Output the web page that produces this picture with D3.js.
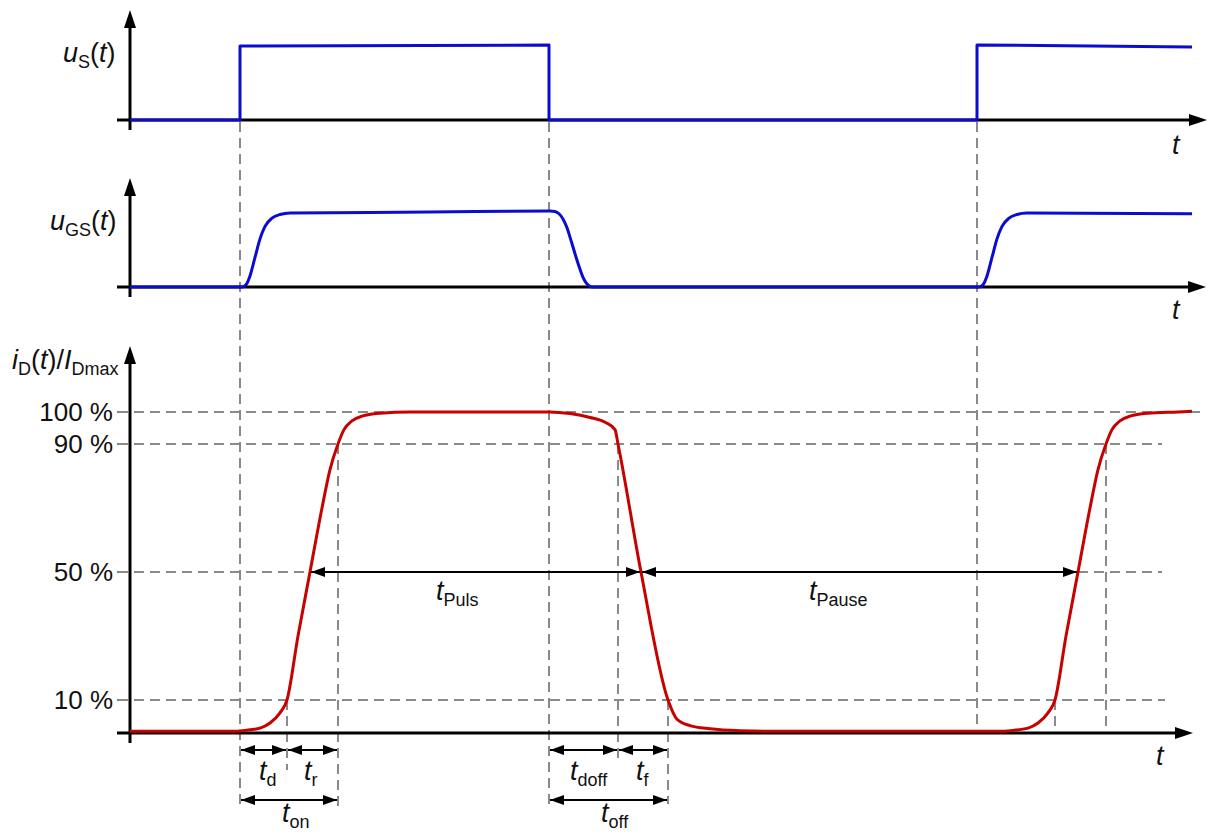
<!DOCTYPE html>
<html>
<head>
<meta charset="utf-8">
<script src="https://cdn.jsdelivr.net/npm/d3@7"></script>
<style>
  body { margin: 0; background: #fff; }
  text { font-family: "Liberation Sans", Arial, sans-serif; fill: #111; }
</style>
</head>
<body>
<script>
// ////////// Daten ////////////
// Zeit in willkürlichen Einheiten (0 .. 1075)
var usT   = [0, 110, 110, 419, 419, 847, 847, 1062];
var usVal = [0, 0, 1.0, 1.013, 0, 0, 1.015, 0.986];

var ugsT   = [0, 112, 116, 120, 125, 130, 135, 142, 150, 160, 300, 420, 425, 429, 433, 437, 441, 445, 449, 453, 457, 462, 470,
              849, 853, 857, 862, 867, 872, 879, 887, 897, 1062];
var ugsVal = [0, 0, 0.03, 0.15, 0.4, 0.65, 0.82, 0.93, 0.98, 1.0, 1.012, 1.027, 1.02, 0.99, 0.92, 0.8, 0.63, 0.45, 0.28, 0.13, 0.04, 0.0, 0.0,
              0.0, 0.03, 0.15, 0.4, 0.65, 0.82, 0.93, 0.98, 1.0, 0.99];

var idT   = [0, 100, 115, 130, 140, 150, 157, 168, 180, 192, 200, 208, 214, 222, 232, 250, 280, 419,
             440, 460, 475, 485, 488, 511, 538, 547, 560, 580, 610, 650,
             847, 868, 883, 898, 908, 918, 925, 936, 948, 960, 968, 976, 982, 990, 1000, 1018, 1048, 1062];
var idVal = [0.2, 0.2, 0.5, 1.2, 2.8, 6, 10, 30, 50, 70, 82, 90, 94.5, 97.2, 98.7, 99.6, 100, 100,
             99.5, 98.3, 96.8, 94.5, 90, 50, 10, 4, 2, 1, 0.4, 0.2,
             0.2, 0.2, 0.5, 1.2, 2.8, 6, 10, 30, 50, 70, 82, 90, 94.5, 97.2, 98.7, 99.6, 100, 100.2];

var pctTicks  = [100, 90, 50, 10];
var pctLabels = ["100 %", "90 %", "50 %", "10 %"];
var pctEnd    = [1075, 1032, 1032, 1035];

// markante Zeitpunkte
var tOn1 = 110, t10r = 157, t50r = 180, t90r = 208;
var tOff = 419, t90f = 488, t50f = 511, t10f = 538;
var tOn2 = 847, t10r2 = 925, t50r2 = 948, t90r2 = 976;

// ////////////// svg //////////////
var width = 1208, height = 832;
var svg = d3.select("body").append("svg")
  .attr("width", width).attr("height", height);

var x = d3.scaleLinear().domain([0, 1075]).range([130, 1205]);
var yS  = d3.scaleLinear().domain([0, 1]).range([120, 46]);
var yGS = d3.scaleLinear().domain([0, 1]).range([287, 213]);
var yD  = d3.scaleLinear().domain([0, 100]).range([732, 412]);

var grau = "#8a8a8a", blau = "#0c0cd0", rot = "#c80000";

// Pfeilspitzen
var defs = svg.append("defs");
defs.append("marker").attr("id", "pfeil")
  .attr("viewBox", "0 0 14 10").attr("refX", 14).attr("refY", 5)
  .attr("markerWidth", 14).attr("markerHeight", 10)
  .attr("markerUnits", "userSpaceOnUse").attr("orient", "auto-start-reverse")
  .append("path").attr("d", "M0,0 L14,5 L0,10 Z").attr("fill", "#000");

// ///////// gestrichelte Hilfslinien /////////
function dash(x1, y1, x2, y2) {
  svg.append("line")
    .attr("x1", x1).attr("y1", y1).attr("x2", x2).attr("y2", y2)
    .attr("stroke", grau).attr("stroke-width", 2)
    .attr("stroke-dasharray", "10,6");
}
pctTicks.forEach(function(p, i) {
  dash(118, yD(p), x(pctEnd[i]), yD(p));
});
dash(x(tOn1), 122, x(tOn1), 806);
dash(x(tOff), 122, x(tOff), 808);
dash(x(tOn2), 122, x(tOn2), 733);
dash(x(t10r), yD(10), x(t10r), 770);
dash(x(t90r), yD(90), x(t90r), 806);
dash(x(t90f), yD(90), x(t90f), 762);
dash(x(t10f), yD(10), x(t10f), 804);
dash(x(t10r2), yD(10), x(t10r2), 733);
dash(x(t90r2), yD(90), x(t90r2), 733);

// ///////// Achsen /////////
function achse(base, tip, xEnd) {
  svg.append("line").attr("x1", 130).attr("y1", base + 10).attr("x2", 130).attr("y2", tip + 14)
    .attr("stroke", "#000").attr("stroke-width", 3);
  svg.append("path").attr("d", "M" + 130 + "," + tip + " l-6,18 l12,0 Z").attr("fill", "#000");
  svg.append("line").attr("x1", 117).attr("y1", base).attr("x2", xEnd - 14).attr("y2", base)
    .attr("stroke", "#000").attr("stroke-width", 3);
  svg.append("path").attr("d", "M" + xEnd + "," + base + " l-18,-6 l0,12 Z").attr("fill", "#000");
}
achse(120, 10, 1207);
achse(287, 178, 1206);
achse(733, 346, 1193);

// ///////// Kurven /////////
function kurve(ts, vs, y, farbe, curve) {
  var pts = ts.map(function(t, i) { return [x(t), y(vs[i])]; });
  svg.append("path").datum(pts)
    .attr("d", d3.line().curve(curve)(pts))
    .attr("fill", "none").attr("stroke", farbe).attr("stroke-width", 3)
    .attr("stroke-linejoin", "round");
}
kurve(usT, usVal, yS, blau, d3.curveLinear);
kurve(ugsT, ugsVal, yGS, blau, d3.curveMonotoneX);
kurve(idT, idVal, yD, rot, d3.curveMonotoneX);

// ///////// Maßpfeile /////////
function mass(t1, t2, yy) {
  svg.append("line")
    .attr("x1", x(t1) + 1).attr("y1", yy).attr("x2", x(t2) - 1).attr("y2", yy)
    .attr("stroke", "#000").attr("stroke-width", 2)
    .attr("marker-start", "url(#pfeil)").attr("marker-end", "url(#pfeil)");
}
mass(t50r, t50f, yD(50));
mass(t50f, t50r2, yD(50));
mass(tOn1, t10r, 750);
mass(t10r, t90r, 750);
mass(tOn1, t90r, 800);
mass(tOff, t90f, 750);
mass(t90f, t10f, 750);
mass(tOff, t10f, 800);

// ///////// Beschriftung /////////
function label(px, py, teile, anchor) {
  var t = svg.append("text").attr("x", px).attr("y", py)
    .attr("text-anchor", anchor || "start");
  teile.forEach(function(p) {
    var s = t.append("tspan").text(p.s)
      .style("font-size", (p.sub ? 18 : 27) + "px")
      .style("font-style", p.it ? "italic" : "normal");
    if (p.dy) s.attr("dy", p.dy);
  });
  return t;
}
label(63, 62, [{s: "u", it: 1}, {s: "S", sub: 1, dy: 6}, {s: "(", dy: -6}, {s: "t", it: 1}, {s: ")"}]);
label(50, 230, [{s: "u", it: 1}, {s: "GS", sub: 1, dy: 6}, {s: "(", dy: -6}, {s: "t", it: 1}, {s: ")"}]);
label(12, 369, [{s: "i", it: 1}, {s: "D", sub: 1, dy: 6}, {s: "(", dy: -6}, {s: "t", it: 1}, {s: ")/"},
               {s: "I", it: 1}, {s: "Dmax", sub: 1, dy: 6}]);

pctTicks.forEach(function(p, i) {
  svg.append("text").attr("x", 113).attr("y", yD(p) + 9)
    .attr("text-anchor", "end").style("font-size", "26px").text(pctLabels[i]);
  svg.append("circle").attr("cx", 118).attr("cy", yD(p)).attr("r", 1.2).attr("fill", grau);
});

label(1172, 154, [{s: "t", it: 1}]);
label(1172, 319, [{s: "t", it: 1}]);
label(1156, 765, [{s: "t", it: 1}]);

label(436, 600, [{s: "t", it: 1}, {s: "Puls", sub: 1, dy: 6}]);
label(809, 600, [{s: "t", it: 1}, {s: "Pause", sub: 1, dy: 6}]);
label(259, 780, [{s: "t", it: 1}, {s: "d", sub: 1, dy: 6}]);
label(304, 780, [{s: "t", it: 1}, {s: "r", sub: 1, dy: 6}]);
label(282, 822, [{s: "t", it: 1}, {s: "on", sub: 1, dy: 6}]);
label(570, 780, [{s: "t", it: 1}, {s: "doff", sub: 1, dy: 6}]);
label(636, 780, [{s: "t", it: 1}, {s: "f", sub: 1, dy: 6}]);
label(601, 822, [{s: "t", it: 1}, {s: "off", sub: 1, dy: 6}]);
</script>
</body>
</html>
